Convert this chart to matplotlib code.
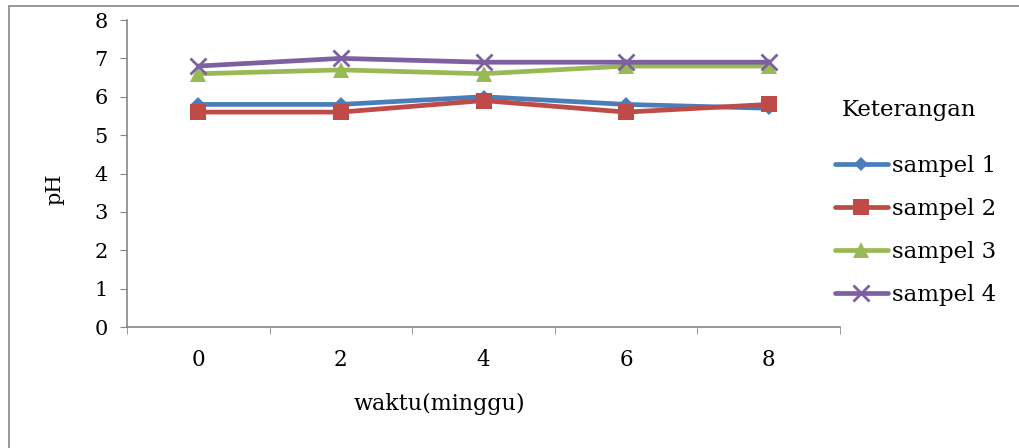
import numpy as np
import matplotlib.pyplot as plt
from matplotlib.patches import Rectangle

# pH tiap sampel per minggu
weeks = ["0", "2", "4", "6", "8"]
sampel_1 = [5.8, 5.8, 6.0, 5.8, 5.7]
sampel_2 = [5.6, 5.6, 5.9, 5.6, 5.8]
sampel_3 = [6.6, 6.7, 6.6, 6.8, 6.8]
sampel_4 = [6.8, 7.0, 6.9, 6.9, 6.9]
series_names = ["sampel 1", "sampel 2", "sampel 3", "sampel 4"]

colors = ["#4A7EBB", "#BE4B48", "#98B954", "#7D60A0"]
markers = ["D", "s", "^", "x"]
msizes = [7, 11.5, 11, 12]
serif = "DejaVu Serif"

fig = plt.figure(figsize=(10.2, 4.48), dpi=100)
ax = fig.add_axes([127 / 1020, 1 - 327 / 448, 713 / 1020, 307 / 448])

x = np.arange(len(weeks))
for vals, name, c, m, ms in zip([sampel_1, sampel_2, sampel_3, sampel_4],
                                series_names, colors, markers, msizes):
    ax.plot(x, vals, color=c, lw=3.4, marker=m, ms=ms, mew=2 if m == "x" else 0,
            label=name, solid_capstyle="round")

ax.set_xlim(-0.5, len(weeks) - 0.5)
ax.set_ylim(0, 8)
ax.set_yticks(range(0, 9))
ax.set_xticks(x)
ax.set_xticklabels(weeks, family=serif, fontsize=15.5)
ax.set_xticks(np.arange(-0.5, len(weeks)), minor=True)
ax.tick_params(axis="x", which="major", length=0, pad=16)
ax.tick_params(axis="x", which="minor", length=5, color="#868686", direction="out")
ax.tick_params(axis="y", length=5, color="#868686", direction="out", pad=9)
for lab in ax.get_yticklabels():
    lab.set_family(serif)
    lab.set_fontsize(15)
for s in ["top", "right"]:
    ax.spines[s].set_visible(False)
for s in ["left", "bottom"]:
    ax.spines[s].set_color("#868686")
    ax.spines[s].set_linewidth(1.2)

fig.text(439 / 1020, 1 - 404 / 448, "waktu(minggu)", family=serif,
         fontsize=16, ha="center", va="center")
fig.text(55 / 1020, 1 - 189 / 448, "pH", family=serif, fontsize=15,
         rotation=90, ha="center", va="center")

fig.text(842 / 1020, 1 - 110 / 448, "Keterangan", family=serif, fontsize=16.5,
         ha="left", va="center")
leg = fig.legend(loc="upper left", bbox_to_anchor=(835 / 1020, 1 - 155 / 448),
                 frameon=False, handlelength=2.3, handletextpad=0.2,
                 labelspacing=0.92, borderpad=0, borderaxespad=0,
                 prop={"family": serif, "size": 16.5})

# bingkai chart
fig.patches.append(Rectangle((9 / 1020, -0.02), 1.05, 1 - 6 / 448 + 0.02,
                             transform=fig.transFigure, fill=False,
                             edgecolor="#868686", lw=1.2))

fig.savefig("out.png", dpi=100)
